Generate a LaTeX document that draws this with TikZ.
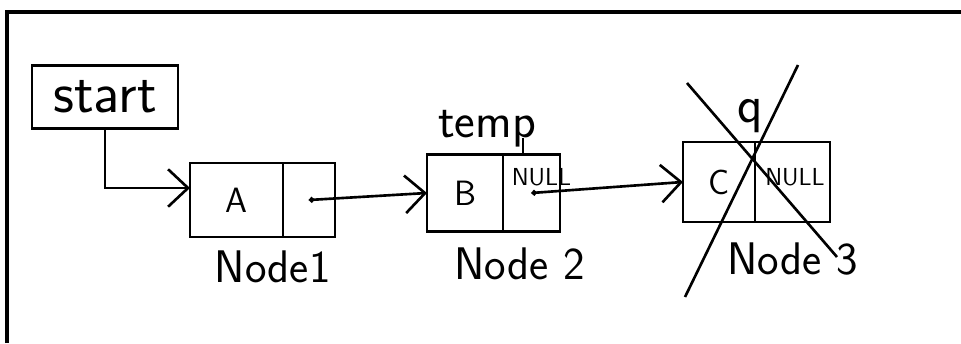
\documentclass[tikz,border=0pt]{standalone}
\usepackage{tikz}
\usetikzlibrary{arrows.meta,positioning,calc}

\begin{document}
\begin{tikzpicture}[
  font=\sffamily,
  cell/.style={draw,outer sep=0pt,inner sep=2pt,align=center,font=\sffamily\fontsize{20}{24}\selectfont},
  lbl/.style={inner sep=1pt,font=\sffamily\fontsize{26}{30}\selectfont},
  nul/.style={inner sep=0pt,font=\sffamily\fontsize{14}{16}\selectfont},
  ptr/.style={arrows={Circle[length=3pt]-Straight Barb[length=4mm,width=7.5mm]}},
  >={Straight Barb[length=4mm,width=7.5mm]},
  line width=1.5pt]
  \useasboundingbox (0,0) rectangle (19.22,6.86);
  % frame
  \draw[line width=0.8mm] (0.14,0) |- (19.22,6.62);
  \node[cell,minimum width=29.2mm,minimum height=12.6mm,font=\sffamily\fontsize{33}{36}\selectfont] (start) at (2.1,4.92) {start};
  % the three nodes: data cell + link cell
  \node[cell,minimum width=18.6mm,minimum height=14.8mm] (n1) at (4.73,2.86) {A};
  \node[cell,minimum width=10.4mm,minimum height=14.8mm,right=0pt of n1] (n1l) {};
  \node[cell,minimum width=15.2mm,minimum height=15.4mm,right=18.4mm of n1l,yshift=1.4mm] (n2) {B};
  \node[cell,minimum width=11.4mm,minimum height=15.4mm,right=0pt of n2] (n2l) {};
  \node[cell,minimum width=14.4mm,minimum height=16mm,right=24.6mm of n2l,yshift=2.2mm] (n3) {C};
  \node[cell,minimum width=15mm,minimum height=16mm,right=0pt of n3] (n3l) {};
  \node[nul] (null2) at ($(n2l.center)+(0.2,0.32)$) {NULL};
  \node[nul] (null3) at ($(n3l.center)+(0.05,0.1)$) {NULL};
  % labels
  \node[lbl,below=2.2mm of $(n1.south)!0.5!(n1l.south)$] (lab1) {Node1};
  \node[lbl,below=2.7mm of n2l.south,xshift=-2.4mm] (lab2) {Node 2};
  \node[lbl,below=3.5mm of n3l.south] (lab3) {Node 3};
  \node[lbl,anchor=base,font=\sffamily\fontsize{28}{32}\selectfont] (temp) at ($(n2.north east)+(-0.32,0.34)$) {temp};
  \node[lbl,anchor=base,font=\sffamily\fontsize{30}{34}\selectfont] (q) at ($(n3l.north west)+(-0.1,0.4)$) {q};
  % pointers
  \draw[->] (start.south) |- ([yshift=2.4mm]n1.west);
  \draw[ptr] (n1l.center) -- (n2.west);
  \draw[ptr] (n2l.center) -- (n3.west);
  \draw ([xshift=4mm]n2l.north west) -- ([xshift=4mm]n2l.north west |- temp.base);
  % node 3 crossed out
  \draw (13.74,5.2) -- (16.74,1.72);
  \draw (15.96,5.56) -- (13.7,0.92);
\end{tikzpicture}
\end{document}
